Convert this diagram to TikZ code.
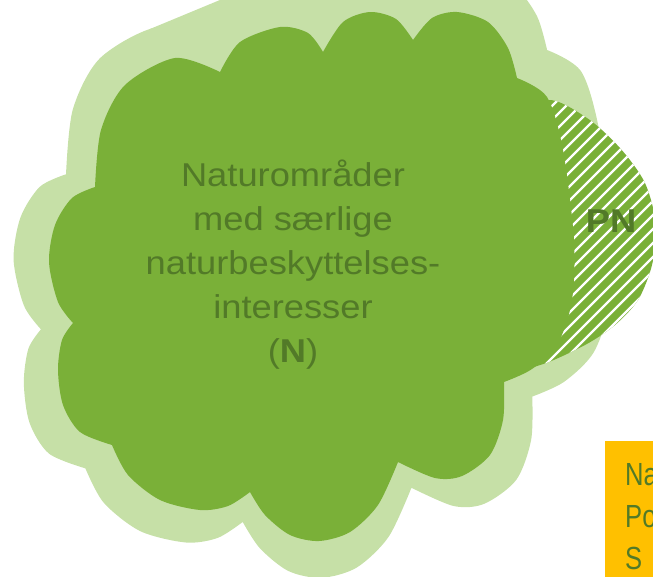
\documentclass[tikz,border=0pt]{standalone}
\usepackage{fontspec}
\setmainfont{Liberation Sans}
\newfontfamily\cloudfont{Liberation Sans}[FakeStretch=1.1]
\newfontfamily\legendfont{Liberation Sans}[FakeStretch=0.8]
\usepackage{xcolor}
\usepackage{tikz}
\definecolor{cloudgreen}{RGB}{122,176,56}
\definecolor{shadowgreen}{RGB}{198,224,167}
\definecolor{textgreen}{RGB}{82,122,40}
\definecolor{legendyellow}{RGB}{255,192,0}

\begin{document}
\begin{tikzpicture}[x=1pt,y=-1pt]
\tikzset{cloudtext/.style={text=textgreen,align=center,font=\cloudfont\fontsize{33}{44}\selectfont},
         stripe/.style={white,line width=2.2pt}}
\useasboundingbox (0,0) rectangle (653,576);
\clip (0,0) rectangle (653,576);
\def\cx{302}\def\cy{278}\def\grow{1.14}
% Cloud outline, one smooth bump after the other
\def\cloudpath{plot[smooth] coordinates {(95,187) (101,130) (125,85) (175,58) (220,72)}
  -- plot[smooth] coordinates {(220,72) (240,42) (280,27) (308,33) (323,52)}
  -- plot[smooth] coordinates {(323,52) (343,22) (370,12) (396,19) (413,40)}
  -- plot[smooth] coordinates {(413,40) (432,18) (457,12) (488,22) (508,48) (517,78)}
  -- plot[smooth] coordinates {(517,78) (547,97) (563,150) (574,240) (572,300) (558,343) (532,369) (504,382)}
  -- plot[smooth] coordinates {(504,382) (503,420) (490,455) (462,476) (435,478) (398,462)}
  -- plot[smooth] coordinates {(398,462) (378,505) (350,532) (319,541) (290,535) (265,515) (250,492)}
  -- plot[smooth] coordinates {(250,492) (228,506) (200,510) (160,500) (128,475) (112,445)}
  -- plot[smooth] coordinates {(112,445) (80,432) (63,405) (58,370) (62,340) (73,323)}
  -- plot[smooth] coordinates {(73,323) (58,302) (49,262) (55,225) (72,198) (95,187)} -- cycle}
\def\hatchpath{plot[smooth cycle] coordinates {(547,100) (587,118) (620,148) (645,183) (656,225)
  (652,265) (638,300) (615,325) (585,345) (540,365) (515,362) (500,250) (510,130)}}
% Light cloud behind
\fill[shadowgreen,shift={(\cx,\cy)},scale=\grow,shift={(-\cx,-\cy)}] \cloudpath;
\fill[shadowgreen] (150,29) -- (232,-5) -- (515,-5) -- (515,40) -- (300,90) -- (170,50) -- cycle;
% Hatched area
\fill[cloudgreen] \hatchpath;
\begin{scope}
\clip \hatchpath;
\foreach \k in {90,104,...,600}
  \draw[stripe] (470,\k) -- ++(220,-220);
\end{scope}
% Dark cloud
\fill[cloudgreen] \cloudpath;
% Labels
\node[cloudtext] (naturtext) at (293,265)
  {Naturområder\\med særlige\\naturbeskyttelses-\\interesser\\(\textbf{N})};
\node[cloudtext,font=\cloudfont\bfseries\fontsize{33}{40}\selectfont] (pn) at (611,221) {PN};
% Legend box
\node[fill=legendyellow,anchor=north west,text=textgreen,align=left,
      inner xsep=20pt,inner ysep=22pt,font=\legendfont\fontsize{32}{42}\selectfont]
  (legend) at (605,441) {Na\\Po\\S};
\end{tikzpicture}
\end{document}
